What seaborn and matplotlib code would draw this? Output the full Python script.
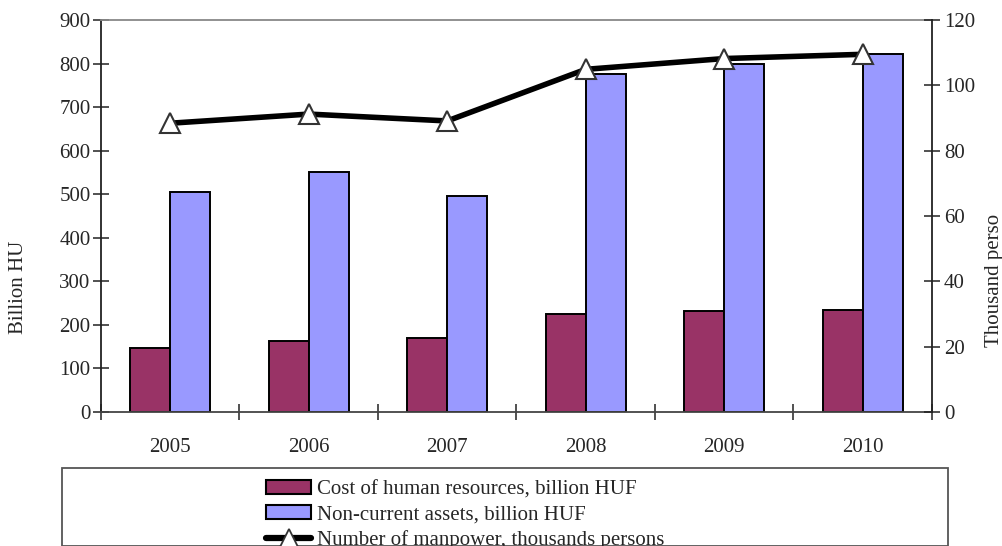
import numpy as np
import pandas as pd
import matplotlib
matplotlib.use("Agg")
import matplotlib.pyplot as plt
from matplotlib.patches import Rectangle
from matplotlib.lines import Line2D
import seaborn as sns

# Data
years = ["2005", "2006", "2007", "2008", "2009", "2010"]
hr_cost = [146, 162, 171, 225, 233, 234]          # billion HUF
non_current_assets = [504, 551, 497, 775, 798, 822]  # billion HUF
manpower = [88.4, 91.2, 89.1, 104.9, 108.2, 109.5]   # thousand persons

label_hr = "Cost of human resources, billion HUF"
label_nca = "Non-current assets, billion HUF"
label_mp = "Number of manpower, thousands persons"

sns.set_theme(style="white")
plt.rcParams["font.family"] = ["Liberation Serif", "DejaVu Serif"]
FS = 15

df = pd.DataFrame({
    "year": years * 2,
    "value": hr_cost + non_current_assets,
    "series": [label_hr] * len(years) + [label_nca] * len(years),
})

fig = plt.figure(figsize=(10.03, 5.46), dpi=100)
ax = fig.add_axes([101 / 1003, 1 - 412 / 546, 831 / 1003, 392 / 546])

sns.barplot(data=df, x="year", y="value", hue="series", order=years,
            hue_order=[label_hr, label_nca],
            palette=["#993366", "#9999FF"], saturation=1, width=0.58,
            edgecolor="black", linewidth=1.4, ax=ax, legend=False)

ax.set_xlim(-0.5, len(years) - 0.5)
ax.set_ylim(0, 900)
ax.set_yticks(np.arange(0, 901, 100))
ax.set_xlabel("")
ax.set_ylabel("")

ax2 = ax.twinx()
sns.lineplot(x=np.arange(len(years)), y=manpower, ax=ax2, color="black",
             linewidth=4, marker="^", markersize=15,
             markerfacecolor="white", markeredgecolor="#333333",
             markeredgewidth=1.5, legend=False)
ax2.set_ylim(0, 120)
ax2.set_yticks(np.arange(0, 121, 20))

# axes styling
for a in (ax, ax2):
    for s in a.spines.values():
        s.set_visible(False)
ax.spines["left"].set_visible(True)
ax.spines["left"].set_color("#222222")
ax.spines["bottom"].set_visible(True)
ax.spines["bottom"].set_color("#444444")
ax.spines["top"].set_visible(True)
ax.spines["top"].set_color("#888888")
ax2.spines["right"].set_visible(True)
ax2.spines["right"].set_color("#222222")
for a in (ax, ax2):
    for s in a.spines.values():
        s.set_linewidth(1.3)

ax.tick_params(axis="y", direction="inout", length=11, width=1.1,
               color="#222222", labelsize=FS, pad=2, left=True)
ax2.tick_params(axis="y", direction="inout", length=11, width=1.1,
                color="#222222", labelsize=FS, pad=3, right=True)
ax.tick_params(axis="x", which="major", length=0, labelsize=FS, pad=19)
ax.set_xticks(np.arange(-0.5, len(years), 1.0), minor=True)
ax.tick_params(axis="x", which="minor", direction="inout", length=12,
               width=1.1, color="#222222", bottom=True)

fig.text(19 / 1003, 1 - 287 / 546, "Billion HU", rotation=90,
         ha="center", va="center", fontsize=FS)
fig.text(995 / 1003, 1 - 280 / 546, "Thousand perso", rotation=90,
         ha="center", va="center", fontsize=FS)

# legend box
fig.patches.append(Rectangle((62 / 1003, 0), (948 - 62) / 1003,
                             (546 - 468) / 546, transform=fig.transFigure,
                             facecolor="white", edgecolor="#555555",
                             linewidth=1.3))
handles = [
    Rectangle((0, 0), 1, 1, facecolor="#993366", edgecolor="black", linewidth=1.5),
    Rectangle((0, 0), 1, 1, facecolor="#9999FF", edgecolor="black", linewidth=1.5),
    Line2D([], [], color="black", linewidth=4.5, marker="^", markersize=13,
           markerfacecolor="white", markeredgecolor="#333333", markeredgewidth=1.3),
]
fig.legend(handles, [label_hr, label_nca, label_mp], loc="upper left",
           bbox_to_anchor=(256 / 1003, 1 - 470 / 546), frameon=False,
           fontsize=FS, handlelength=2.15, handleheight=0.65,
           handletextpad=0.3, labelspacing=0.26, borderpad=0)

fig.savefig("out.png", dpi=100)
